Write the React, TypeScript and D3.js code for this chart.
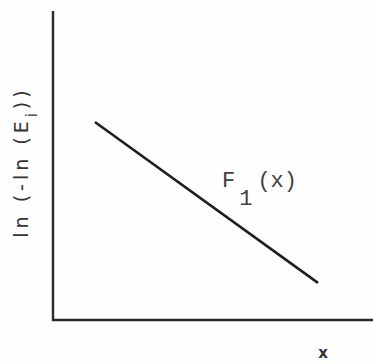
import React from "react";
import * as d3 from "d3";

// Straight-line relationship between x and ln(-ln(E_i))
const lineX = [13.1, 82.8];
const lineY = [64.1, 12.0];
const curveLabel = "F";
const curveSub = "1";
const curveArg = "(x)";
const xAxisLabel = "x";

const W = 373;
const H = 364;

export default function App() {
  const x = d3.scaleLinear().domain([0, 100]).range([53, 373]);
  const y = d3.scaleLinear().domain([0, 100]).range([320, 11]);
  const pts: [number, number][] = lineX.map((v, i) => [v, lineY[i]]);
  const path = d3
    .line<[number, number]>()
    .x((d) => x(d[0]))
    .y((d) => y(d[1]))(pts);

  return (
    <svg
      width={W}
      height={H}
      style={{ position: "absolute", left: 0, top: 0, background: "#fff" }}
    >
      <rect width={W} height={H} fill="#fefefe" />
      {/* axes */}
      <path
        d={`M${x(0)},${y(100)}L${x(0)},${y(0)}L${x(100)},${y(0)}`}
        fill="none"
        stroke="#2a2a2a"
        strokeWidth={2.4}
      />
      {/* the fitted line */}
      <path d={path ?? ""} fill="none" stroke="#1e1e1e" strokeWidth={2.6} />
      {/* curve label */}
      <text
        x={222}
        y={187}
        fontFamily="'Liberation Mono', 'DejaVu Sans Mono', monospace"
        fontSize={22}
        fill="#404040"
      >
        <tspan>{curveLabel}</tspan>
        <tspan dy={18} dx={4}>{curveSub}</tspan>
        <tspan dy={-18} dx={5}>{curveArg}</tspan>
      </text>
      {/* y-axis title */}
      <text
        transform="translate(28,162) rotate(-90)"
        textAnchor="middle"
        fontFamily="'DejaVu Sans', sans-serif"
        fontSize={19}
        letterSpacing={4}
        fill="#333"
      >
        <tspan>ln (-ln (E</tspan>
        <tspan dy={9} fontSize={15}>i</tspan>
        <tspan dy={-9}>))</tspan>
      </text>
      {/* x-axis title */}
      <text
        x={323}
        y={358}
        textAnchor="middle"
        fontFamily="'DejaVu Sans', sans-serif"
        fontWeight="bold"
        fontSize={15}
        fill="#333"
      >
        {xAxisLabel}
      </text>
    </svg>
  );
}
